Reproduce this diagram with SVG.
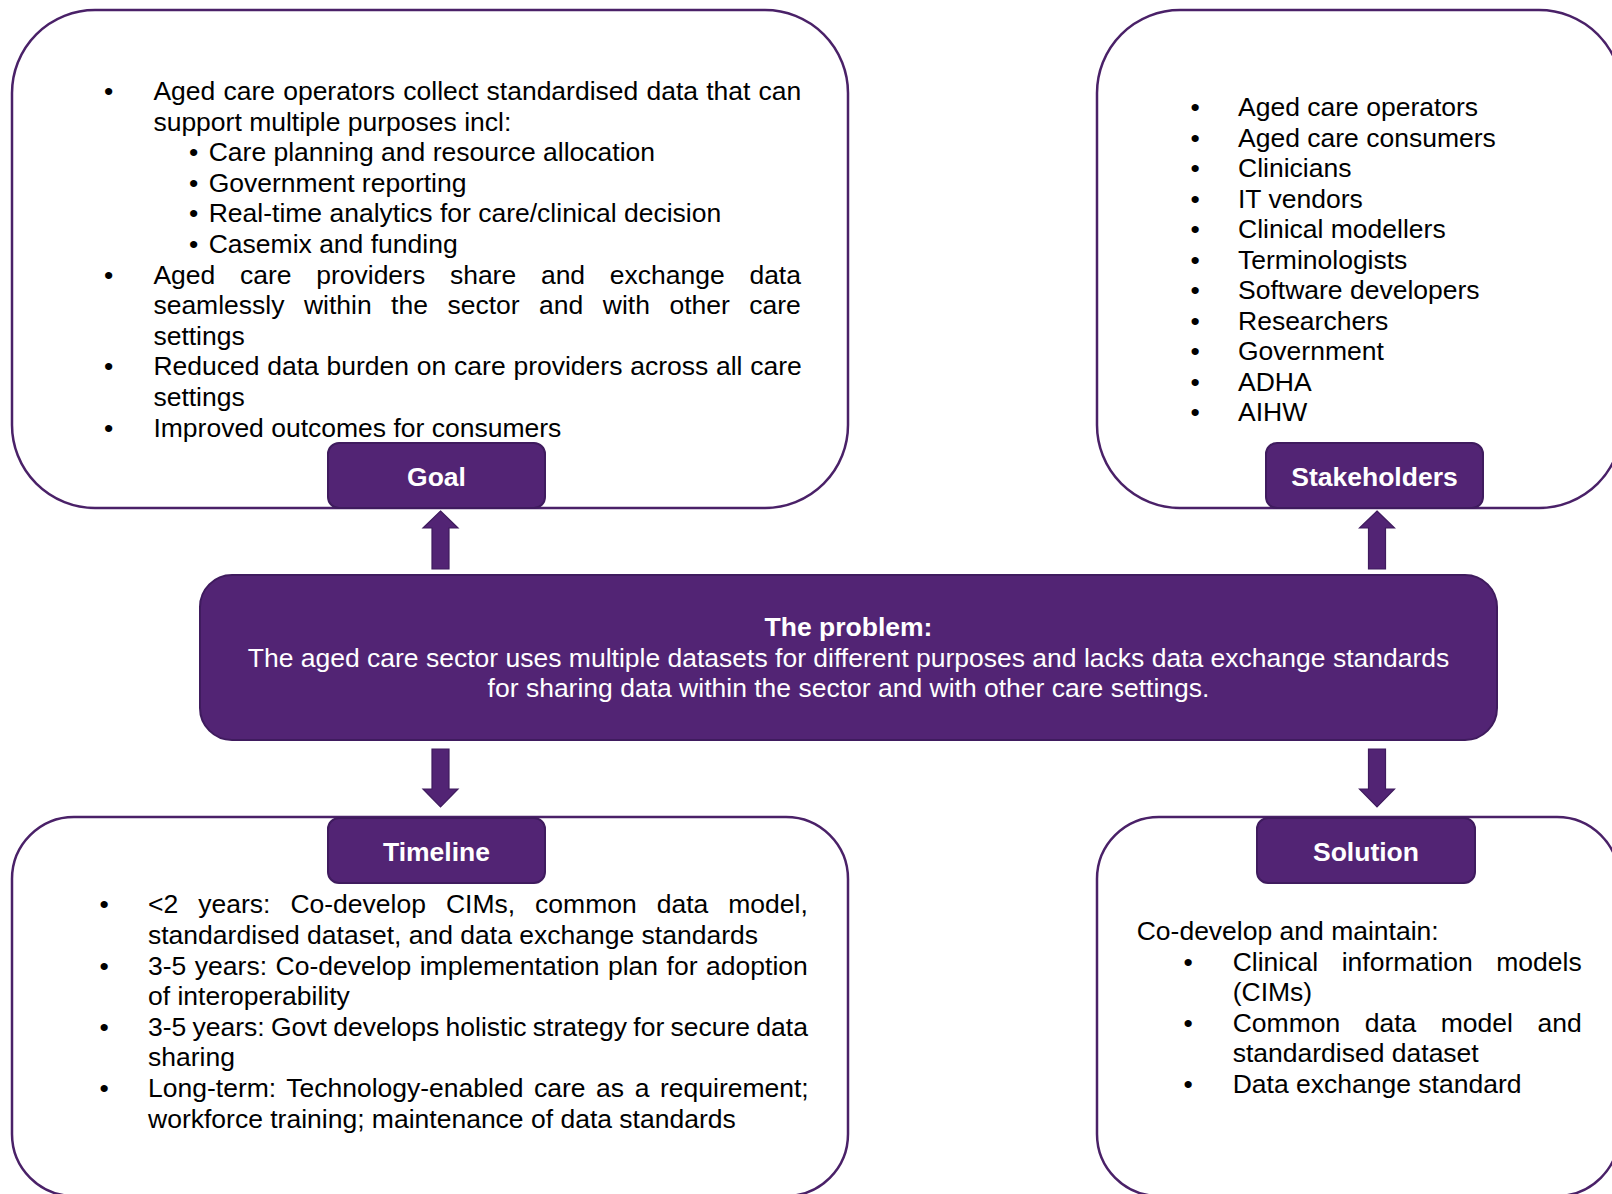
<svg xmlns="http://www.w3.org/2000/svg" width="1612" height="1194" viewBox="0 0 1612 1194">
<style>
  .frame { fill: #ffffff; stroke: #4a2168; stroke-width: 2.5; }
  .label { fill: #522474; stroke: #3f1b5e; stroke-width: 2; }
  .arrow { fill: #522474; stroke: #3f1b5e; stroke-width: 1.2; }
  text { font-family: "Liberation Sans", Arial, sans-serif; font-size: 26.5px; fill: #000000; }
  .lt { fill: #ffffff; font-weight: bold; text-anchor: middle; }
  .pt { fill: #ffffff; text-anchor: middle; }
</style>
<rect width="1612" height="1194" fill="#ffffff"/>

<g id="goal">
  <rect class="frame" x="12" y="10" width="836" height="498" rx="83" ry="83"/>
  <text x="104" y="100">•</text>
  <text x="153.4" y="100" word-spacing="0.8">Aged care operators collect standardised data that can</text>
  <text x="153.4" y="130.6">support multiple purposes incl:</text>
  <text x="189" y="161.2">•</text><text x="208.7" y="161.2">Care planning and resource allocation</text>
  <text x="189" y="191.8">•</text><text x="208.7" y="191.8">Government reporting</text>
  <text x="189" y="222.4">•</text><text x="208.7" y="222.4">Real-time analytics for care/clinical decision</text>
  <text x="189" y="253">•</text><text x="208.7" y="253">Casemix and funding</text>
  <text x="104" y="283.6">•</text>
  <text y="283.6"><tspan x="153.4">Aged</tspan><tspan x="240">care</tspan><tspan x="316.2">providers</tspan><tspan x="449.9">share</tspan><tspan x="540.9">and</tspan><tspan x="609.8">exchange</tspan><tspan x="749.4">data</tspan></text>
  <text y="314.2"><tspan x="153.4">seamlessly</tspan><tspan x="303.9">within</tspan><tspan x="391.1">the</tspan><tspan x="447.4">sector</tspan><tspan x="539.1">and</tspan><tspan x="602.8">with</tspan><tspan x="669.4">other</tspan><tspan x="749.3">care</tspan></text>
  <text x="153.4" y="344.8">settings</text>
  <text x="104" y="375.4">•</text>
  <text x="153.4" y="375.4" word-spacing="0.4">Reduced data burden on care providers across all care</text>
  <text x="153.4" y="406">settings</text>
  <text x="104" y="436.6">•</text>
  <text x="153.4" y="436.6">Improved outcomes for consumers</text>
  <rect class="label" x="328" y="443" width="217" height="65" rx="11" ry="11"/>
  <text class="lt" x="436.5" y="486">Goal</text>
</g>

<g id="stakeholders">
  <rect class="frame" x="1097" y="10" width="525" height="498" rx="83" ry="83"/>
  <text x="1190.5" y="116">•</text><text x="1238" y="116">Aged care operators</text>
  <text x="1190.5" y="146.5">•</text><text x="1238" y="146.5">Aged care consumers</text>
  <text x="1190.5" y="177">•</text><text x="1238" y="177">Clinicians</text>
  <text x="1190.5" y="207.5">•</text><text x="1238" y="207.5">IT vendors</text>
  <text x="1190.5" y="238">•</text><text x="1238" y="238">Clinical modellers</text>
  <text x="1190.5" y="268.5">•</text><text x="1238" y="268.5">Terminologists</text>
  <text x="1190.5" y="299">•</text><text x="1238" y="299">Software developers</text>
  <text x="1190.5" y="329.5">•</text><text x="1238" y="329.5">Researchers</text>
  <text x="1190.5" y="360">•</text><text x="1238" y="360">Government</text>
  <text x="1190.5" y="390.5">•</text><text x="1238" y="390.5">ADHA</text>
  <text x="1190.5" y="421">•</text><text x="1238" y="421">AIHW</text>
  <rect class="label" x="1266" y="443" width="217" height="65" rx="11" ry="11"/>
  <text class="lt" x="1374.5" y="486">Stakeholders</text>
</g>

<g id="problem">
  <rect x="200" y="575" width="1297" height="165" rx="32" ry="32" fill="#522474" stroke="#3f1b5e" stroke-width="2"/>
  <text class="pt" x="848.5" y="636" font-weight="bold">The problem:</text>
  <text class="pt" x="848.5" y="666.6">The aged care sector uses multiple datasets for different purposes and lacks data exchange standards</text>
  <text class="pt" x="848.5" y="697.2">for sharing data within the sector and with other care settings.</text>
</g>

<g id="timeline">
  <rect class="frame" x="12" y="817" width="836" height="379" rx="62" ry="62"/>
  <rect class="label" x="328" y="818" width="217" height="65" rx="11" ry="11"/>
  <text class="lt" x="436.5" y="861">Timeline</text>
  <text x="99.5" y="913.3">•</text>
  <text y="913.3"><tspan x="148">&lt;2</tspan><tspan x="198.2">years:</tspan><tspan x="290.4">Co-develop</tspan><tspan x="445.9">CIMs,</tspan><tspan x="535.1">common</tspan><tspan x="656.7">data</tspan><tspan x="728.3">model,</tspan></text>
  <text x="148" y="943.9">standardised dataset, and data exchange standards</text>
  <text x="99.5" y="974.5">•</text>
  <text x="148" y="974.5" word-spacing="1.2">3-5 years: Co-develop implementation plan for adoption</text>
  <text x="148" y="1005.1">of interoperability</text>
  <text x="99.5" y="1035.7">•</text>
  <text x="148" y="1035.7" word-spacing="-1.1">3-5 years: Govt develops holistic strategy for secure data</text>
  <text x="148" y="1066.3">sharing</text>
  <text x="99.5" y="1096.9">•</text>
  <text x="148" y="1096.9" word-spacing="3.2">Long-term: Technology-enabled care as a requirement;</text>
  <text x="148" y="1127.5">workforce training; maintenance of data standards</text>
</g>

<g id="solution">
  <rect class="frame" x="1097" y="817" width="522" height="379" rx="62" ry="62"/>
  <rect class="label" x="1257" y="818" width="218" height="65" rx="11" ry="11"/>
  <text class="lt" x="1366" y="861">Solution</text>
  <text x="1136.7" y="940">Co-develop and maintain:</text>
  <text x="1183.5" y="970.6">•</text>
  <text y="970.6"><tspan x="1232.7">Clinical</tspan><tspan x="1341.7">information</tspan><tspan x="1496.3">models</tspan></text>
  <text x="1232.7" y="1001.2">(CIMs)</text>
  <text x="1183.5" y="1031.8">•</text>
  <text y="1031.8"><tspan x="1232.7">Common</tspan><tspan x="1364.7">data</tspan><tspan x="1440.8">model</tspan><tspan x="1537.5">and</tspan></text>
  <text x="1232.7" y="1062.4">standardised dataset</text>
  <text x="1183.5" y="1093">•</text>
  <text x="1232.7" y="1093">Data exchange standard</text>
</g>

<g id="connectors">
  <polygon class="arrow" points="440.5,511 458,528 449,528 449,569 432,569 432,528 423,528"/>
  <polygon class="arrow" points="1377,511 1394.5,528 1385.5,528 1385.5,569 1368.5,569 1368.5,528 1359.5,528"/>
  <polygon class="arrow" points="432,749 449,749 449,789 458,789 440.5,807 423,789 432,789"/>
  <polygon class="arrow" points="1368.5,749 1385.5,749 1385.5,789 1394.5,789 1377,807 1359.5,789 1368.5,789"/>
</g>
</svg>
